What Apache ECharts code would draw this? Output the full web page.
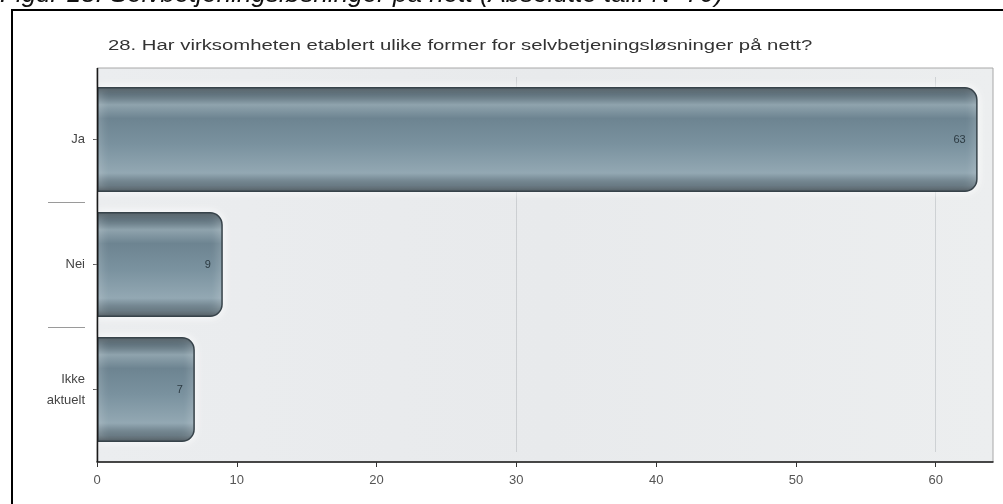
<!DOCTYPE html>
<html>
<head>
<meta charset="utf-8">
<script src="https://cdn.jsdelivr.net/npm/echarts@6/dist/echarts.min.js"></script>
<style>
  html, body { margin: 0; padding: 0; background: #ffffff; }
  #chart { width: 1003px; height: 504px; }
</style>
</head>
<body>
<div id="chart"></div>
<script>
// Survey question 28: number of respondents per answer
const caption = 'Figur 18: Selvbetjeningsløsninger på nett (Absolutte tall. N=79)';
const question = '28. Har virksomheten etablert ulike former for selvbetjeningsløsninger på nett?';
const categories = ['Ja', 'Nei', 'Ikke\naktuelt'];
const counts = [63, 9, 7];
const xTicks = [0, 10, 20, 30, 40, 50, 60];
const gridValues = [30, 60];
// inner boundaries between answer bands (band index)
const separators = [1, 2];

const chart = echarts.init(document.getElementById('chart'), null, { renderer: 'canvas' });

// framed plot panel (light grey box with black left/bottom axis)
const panel = { x: 97, y: 68, w: 896, h: 394 };
const FONT = '"Liberation Sans", Arial, sans-serif';

const barGradient = new echarts.graphic.LinearGradient(0, 0, 0, 1, [
  { offset: 0.00, color: '#3c4950' },
  { offset: 0.07, color: '#5a6d78' },
  { offset: 0.17, color: '#8fa3ad' },
  { offset: 0.30, color: '#6d8491' },
  { offset: 0.55, color: '#7a929f' },
  { offset: 0.82, color: '#93a8b3' },
  { offset: 0.94, color: '#60727c' },
  { offset: 1.00, color: '#38434a' }
]);

const option = {
  backgroundColor: '#ffffff',
  animation: false,
  textStyle: { fontFamily: FONT },
  grid: { left: 97, right: 10, top: 77, bottom: 52, containLabel: false },
  xAxis: {
    type: 'value',
    min: 0,
    max: 64.1,
    position: 'bottom',
    offset: 10,
    axisLine: { show: true, onZero: false, lineStyle: { color: '#1a1a1a', width: 1.5 } },
    axisTick: { show: true, length: 5, customValues: xTicks, lineStyle: { color: '#333' } },
    axisLabel: { customValues: xTicks, color: '#555', fontSize: 13, margin: 12, fontFamily: FONT },
    splitLine: { show: false }
  },
  yAxis: [
    {
      type: 'category',
      data: categories,
      inverse: true,
      axisLine: { show: false, onZero: false },
      axisTick: { show: true, alignWithLabel: true, length: 4, lineStyle: { color: '#222' } },
      axisLabel: { color: '#444', fontSize: 13, lineHeight: 21, margin: 12, fontFamily: FONT, align: 'right' },
      splitLine: { show: false }
    },
    {
      // separators between the answer bands, left of the labels
      type: 'value',
      min: 0,
      max: categories.length,
      inverse: true,
      position: 'left',
      offset: 12,
      axisLine: { show: false, onZero: false },
      axisLabel: { show: false },
      axisTick: {
        show: true,
        length: 37,
        customValues: separators,
        lineStyle: { color: '#9a9a9a', width: 1 }
      },
      splitLine: { show: false }
    }
  ],
  series: [
    {
      type: 'bar',
      yAxisIndex: 0,
      data: counts,
      barWidth: 105,
      itemStyle: {
        color: barGradient,
        borderColor: '#37434a',
        borderWidth: 1.5,
        borderRadius: [0, 12, 12, 0],
        shadowColor: 'rgba(255,255,255,0.95)',
        shadowBlur: 10
      },
      label: {
        show: true,
        position: 'insideRight',
        distance: 12,
        color: '#2c3a42',
        fontSize: 11,
        fontFamily: FONT
      },
      markLine: {
        silent: true,
        symbol: 'none',
        z: 1,
        label: { show: false },
        lineStyle: { color: 'rgba(170,175,180,0.45)', width: 1, type: 'solid' },
        data: gridValues.map(function (v) { return { xAxis: v }; })
      },
      z: 3
    }
  ],
  graphic: [
    {
      type: 'rect',
      z: -10,
      shape: { x: panel.x, y: panel.y, width: panel.w, height: panel.h },
      style: {
        fill: new echarts.graphic.LinearGradient(0, 0, 1, 0, [
          { offset: 0, color: '#ebedef' },
          { offset: 0.5, color: '#e8eaec' },
          { offset: 1, color: '#eceeef' }
        ]),
        stroke: '#a8a8a8',
        lineWidth: 1
      }
    },
    {
      type: 'line',
      z: 10,
      shape: { x1: panel.x + 0.5, y1: panel.y, x2: panel.x + 0.5, y2: panel.y + panel.h },
      style: { stroke: '#1a1a1a', lineWidth: 1.5 }
    },
    {
      type: 'polyline',
      z: 10,
      shape: { points: [[12, 504], [12, 10], [1003, 10]] },
      style: { stroke: '#000', lineWidth: 2, fill: null }
    },
    {
      type: 'text',
      z: 10,
      left: 0,
      top: -18,
      style: {
        text: caption,
        font: 'italic 26px ' + FONT,
        fill: '#111'
      }
    },
    {
      type: 'text',
      z: 10,
      left: 108,
      top: 38,
      scaleX: 1.31,
      style: {
        text: question,
        font: '15.5px ' + FONT,
        fill: '#333'
      }
    }
  ]
};

chart.setOption(option);
</script>
</body>
</html>
